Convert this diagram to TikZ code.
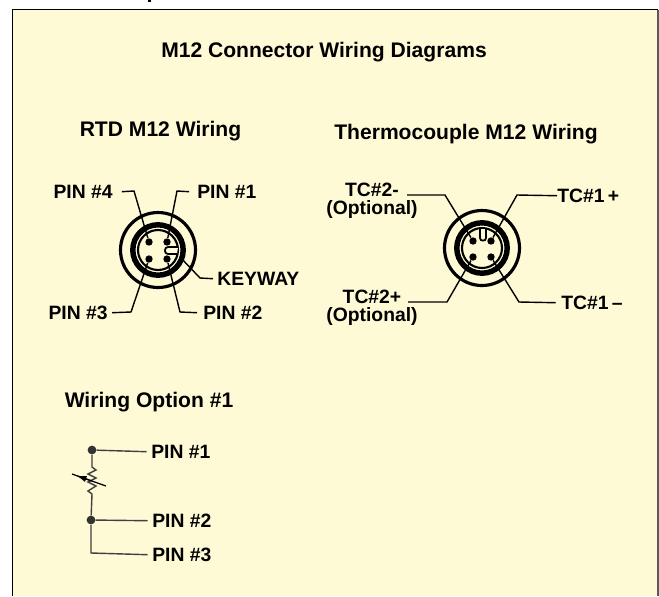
\documentclass[tikz,border=0pt]{standalone}
\usepackage{fontspec}
\setmainfont{Liberation Sans}
\usetikzlibrary{arrows.meta}
\definecolor{panelcol}{RGB}{255,250,214}
\tikzset{
  headline/.style={font=\fontsize{12}{14}\selectfont\bfseries,inner sep=0pt,yshift=-1pt},
  pinlabel/.style={font=\fontsize{11}{13}\selectfont\bfseries,inner sep=0pt,yshift=-0.4pt},
  outerring/.style={line width=1.8pt},
  thickring/.style={line width=3.1pt},
  thinring/.style={line width=1.2pt},
  keyline/.style={line width=1pt},
  pindot/.style={circle,fill=black,inner sep=0pt,minimum size=4.2pt},
  leader/.style={line width=0.8pt},
  wire/.style={line width=0.8pt,black!75},
  joint/.style={circle,fill=black!80,inner sep=0pt,minimum size=5pt}
}
\begin{document}
\begin{tikzpicture}[x=0.02cm,y=-0.02cm]
  \useasboundingbox (0,0) rectangle (659,596);
  % Panel and cut off heading above it
  \fill[panelcol] (12.7,9.5) rectangle (658,596);
  \draw[line width=0.9pt] (12.7,596) -- (12.7,9.5) -- (658,9.5);
  \draw[line width=1.1pt,black!65] (658,9.5) -- (658,596);
  \fill (147.5,0) rectangle (150.5,2);

  % Headings
  \node[headline] (title) at (324,50) {M12 Connector Wiring Diagrams};
  \node[headline] (rtdhead) at (160.5,129) {RTD M12 Wiring};
  \node[headline] (tchead) at (466,132) {Thermocouple M12 Wiring};
  \node[headline] (optionhead) at (149,400) {Wiring Option \#1};

  % RTD connector
  \draw[outerring] (158,250) circle (37.5);
  \draw[thickring] (158,250) circle (25.2);
  \draw[thinring] (158,250) circle (20);
  \node[pindot] (pinone) at (167,242) {};
  \node[pindot] (pintwo) at (167,259) {};
  \node[pindot] (pinthree) at (149,259) {};
  \node[pindot] (pinfour) at (149,242) {};
  \draw[keyline,fill=panelcol] (178,247) -- (168,247)
    to [out=180,in=180,looseness=1.5] (168,254) -- (177,254);

  % RTD labels
  \node[pinlabel,anchor=east] (lblfour) at (113,191) {PIN \#4};
  \node[pinlabel,anchor=west] (lblone) at (197,191) {PIN \#1};
  \node[pinlabel,anchor=east] (lblthree) at (108,312) {PIN \#3};
  \node[pinlabel,anchor=west] (lbltwo) at (203,312) {PIN \#2};
  \node[pinlabel,anchor=west] (lblkey) at (217,278) {KEYWAY};
  \coordinate (keypoint) at (180,257);
  \draw[leader] ([xshift=5pt]lblfour.east) -- (134,191) -- (pinfour);
  \draw[leader] ([xshift=-4.5pt]lblone.west) -- (177,191) -- (pinone);
  \draw[leader] ([xshift=2.3pt]lblthree.east) -- (131,312) -- (pinthree);
  \draw[leader] ([xshift=-3.4pt]lbltwo.west) -- (180,312) -- (pintwo);
  \draw[leader] ([xshift=-2.3pt]lblkey.west) -- (200,278) -- (keypoint);

  % Thermocouple connector
  \draw[outerring] (482,248) circle (37.5);
  \draw[thickring] (482,248) circle (25.2);
  \draw[thinring] (482,248) circle (20);
  \node[pindot] (tcone) at (491,241) {};
  \node[pindot] (tctwo) at (491,257) {};
  \node[pindot] (tcthree) at (473,257) {};
  \node[pindot] (tcfour) at (473,241) {};
  \draw[keyline,fill=panelcol] (480,229) -- (480,238)
    to [out=-90,in=-90,looseness=1.5] (486,238) -- (486,229);

  % Thermocouple labels
  \node[pinlabel] (lbltcfour) at (372,189) {TC\#2-};
  \node[pinlabel] (optfour) at (372,209) {(Optional)};
  \node[pinlabel] (lbltcthree) at (372,296) {TC\#2+};
  \node[pinlabel] (optthree) at (372,316) {(Optional)};
  \node[pinlabel,anchor=west] (lbltcone) at (557,195) {TC\#1\,+};
  \node[pinlabel,anchor=west] (lbltctwo) at (561,302) {TC\#1\,--};
  \coordinate (freefour) at (407,195);
  \coordinate (freethree) at (408,302);
  \draw[leader] (freefour) -- (445,195) -- (tcfour);
  \draw[leader] (freethree) -- (447,302) -- (tcthree);
  \draw[leader] (lbltcone.west) -- (517,195) -- (tcone);
  \draw[leader] ([xshift=-3pt]lbltctwo.west) -- (519,302) -- (tctwo);

  % Wiring option
  \node[joint] (jointone) at (92,450) {};
  \node[joint] (jointtwo) at (91,520) {};
  \node[pinlabel,anchor=west] (wireone) at (151,451) {PIN \#1};
  \node[pinlabel,anchor=west] (wiretwo) at (152,520) {PIN \#2};
  \node[pinlabel,anchor=west] (wirethree) at (152,554) {PIN \#3};
  \draw[wire] (jointone) -- ([xshift=-2.5pt]wireone.west);
  \draw[wire] (jointtwo) -- ([xshift=-2.5pt]wiretwo.west);
  \draw[wire] (jointtwo) -- (91,553) -- ([xshift=-2.5pt]wirethree.west);
  % the resistance
  \draw[wire] (jointone) -- (92,467) -- (96,470) -- (88,474) -- (96,478)
    -- (88,482) -- (96,486) -- (88,491) -- (92,494) -- (jointtwo);
  \draw[line width=0.7pt] (106,486) -- (72,474);
  \draw[line width=0.7pt,-{Latex[length=6pt,width=3.6pt]}] (92,481) -- (76,475.5);
\end{tikzpicture}
\end{document}
